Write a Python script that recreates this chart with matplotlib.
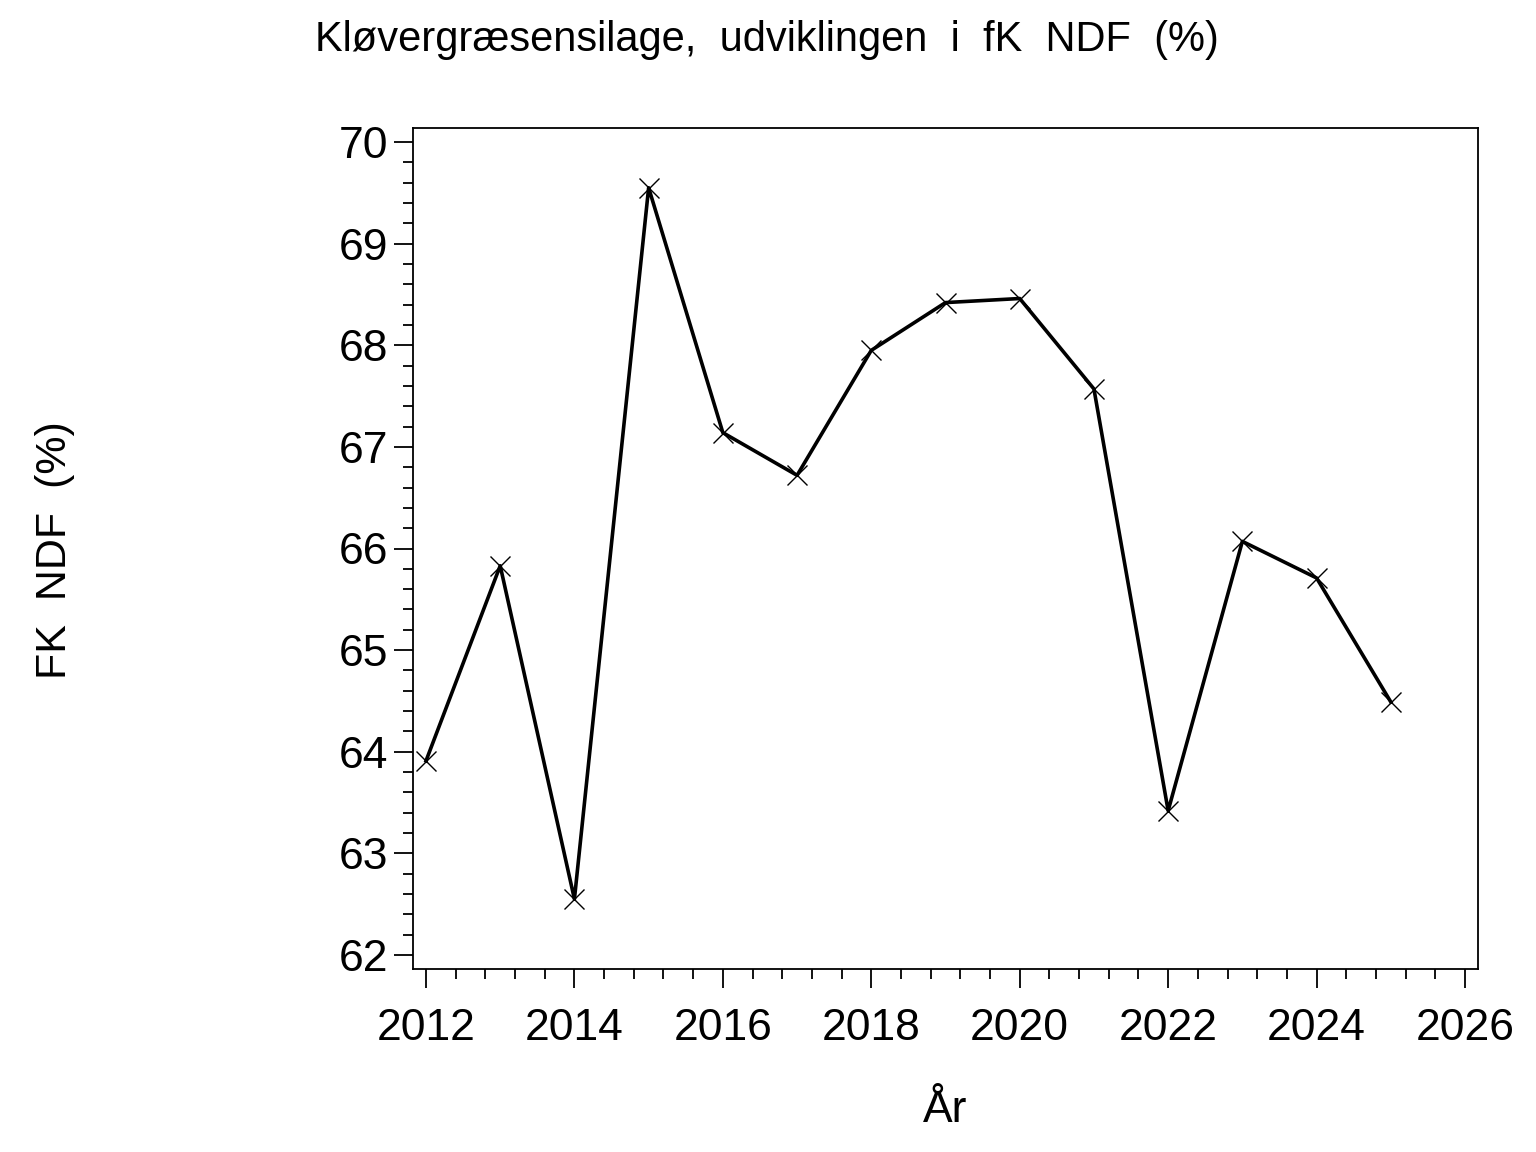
import matplotlib
matplotlib.use('Agg')
import matplotlib.pyplot as plt
from matplotlib.ticker import MultipleLocator

# data
years = [2012, 2013, 2014, 2015, 2016, 2017, 2018, 2019, 2020, 2021, 2022, 2023, 2024, 2025]
ndf = [63.91, 65.83, 62.55, 69.55, 67.14, 66.72, 67.95, 68.42, 68.46, 67.57, 63.42, 66.07, 65.71, 64.49]

plt.rcParams['font.family'] = ['Liberation Sans', 'DejaVu Sans']

fig = plt.figure(figsize=(15.36, 11.52), dpi=100)
ax = fig.add_axes([413/1536, 1 - 969/1152, (1478-413)/1536, (969-128)/1152])

ax.plot(years, ndf, color='black', lw=2.6, marker='x', ms=14, mew=1.0)

ax.set_xlim(2011.825, 2026.175)
ax.set_ylim(61.862, 70.138)
ax.xaxis.set_major_locator(MultipleLocator(2))
ax.xaxis.set_minor_locator(MultipleLocator(0.4))
ax.yaxis.set_major_locator(MultipleLocator(1))
ax.yaxis.set_minor_locator(MultipleLocator(0.2))
ax.tick_params(which='major', direction='out', length=14, width=1.3, labelsize=32, pad=14)
ax.tick_params(which='minor', direction='out', length=7, width=1.3)
ax.tick_params(axis='y', which='major', pad=4)
for s in ax.spines.values():
    s.set_linewidth(1.3)

fig.text(767/1536, 1 - 40/1152, 'Kløvergræsensilage,  udviklingen  i  fK  NDF  (%)',
         ha='center', va='center', fontsize=30)
fig.text(55/1536, 1 - 550/1152, 'FK  NDF  (%)', rotation=90,
         ha='center', va='center', fontsize=31)
fig.text(945/1536, 1 - 1110/1152, 'År', ha='center', va='center', fontsize=32)

fig.savefig('out.png', dpi=100)
